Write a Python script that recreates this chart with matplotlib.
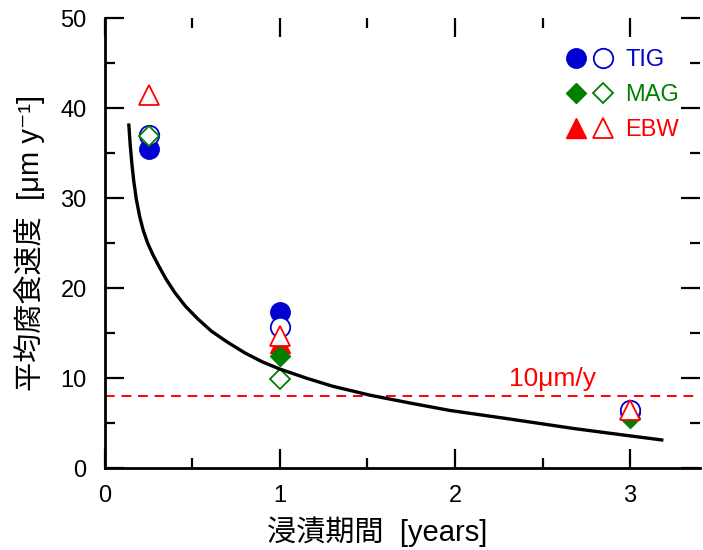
import numpy as np
import matplotlib
matplotlib.use('Agg')
import matplotlib.pyplot as plt
from matplotlib.legend_handler import HandlerTuple
from matplotlib.ticker import MultipleLocator

plt.rcParams['font.family'] = ['Liberation Sans', 'Noto Sans CJK JP', 'DejaVu Sans']

# --- data ---
tig_x_filled = [0.25, 1, 3]
tig_y_filled = [35.5, 17.3, 6.2]
tig_x_open = [0.25, 1, 3]
tig_y_open = [37.0, 15.7, 6.4]

mag_x_filled = [1, 3]
mag_y_filled = [12.4, 5.6]
mag_x_open = [0.25, 1]
mag_y_open = [36.9, 9.9]

ebw_x_filled = [1]
ebw_y_filled = [13.9]
ebw_x_open = [0.25, 1, 3]
ebw_y_open = [41.5, 14.7, 6.4]

# fitted curve
curve_x = [0.137, 0.145, 0.155, 0.165, 0.18, 0.2, 0.22, 0.245, 0.275, 0.31, 0.35,
           0.40, 0.46, 0.53, 0.61, 0.70, 0.80, 0.90, 1.0, 1.15, 1.3, 1.514, 1.75,
           1.971, 2.295, 2.676, 2.95, 3.19]
curve_y = [38.3, 36.0, 33.8, 32.0, 29.9, 27.9, 26.4, 25.0, 23.7, 22.4, 21.0,
           19.5, 18.0, 16.6, 15.2, 14.0, 12.8, 11.8, 11.0, 10.0, 9.1, 8.1, 7.2,
           6.4, 5.5, 4.4, 3.7, 3.1]

limit_y = 8.0
limit_label = '10μm/y'

blue = '#0000d0'
green = '#007f00'
red = '#ff0000'

fig = plt.figure(figsize=(7.03, 5.50), dpi=100)
ax = fig.add_axes([0.149, 0.149, 0.847, 0.818])

ms = 14
mew = 1.3
tf, = ax.plot(tig_x_filled, tig_y_filled, 'o', color=blue, ms=ms, zorder=3, ls='none')
ef, = ax.plot(ebw_x_filled, ebw_y_filled, '^', color=red, ms=ms, zorder=4, ls='none')
mf, = ax.plot(mag_x_filled, mag_y_filled, 'D', color=green, ms=ms * 0.72, zorder=5, ls='none')
to, = ax.plot(tig_x_open, tig_y_open, 'o', mfc='white', mec=blue, mew=mew, ms=ms, zorder=6, ls='none')
eo, = ax.plot(ebw_x_open, ebw_y_open, '^', mfc='white', mec=red, mew=mew, ms=ms, zorder=7, ls='none')
mo, = ax.plot(mag_x_open, mag_y_open, 'D', mfc='white', mec=green, mew=mew, ms=ms * 0.72, zorder=8, ls='none')

ax.plot(curve_x, curve_y, '-', color='black', lw=2.4, zorder=9, solid_capstyle='butt')

# dashed reference line
ax.axhline(limit_y, color=red, lw=1.4, ls=(0, (5, 3.5)), zorder=2)
ax.text(2.31, limit_y + 0.6, limit_label, color=red, fontsize=19, ha='left', va='bottom')

ax.set_xlim(0, 3.4)
ax.set_ylim(0, 50)
ax.xaxis.set_major_locator(MultipleLocator(1))
ax.xaxis.set_minor_locator(MultipleLocator(0.5))
ax.yaxis.set_major_locator(MultipleLocator(10))
ax.yaxis.set_minor_locator(MultipleLocator(5))
ax.tick_params(which='both', direction='in', top=True, right=True, labelsize=17, width=1.6)
ax.tick_params(which='major', length=13.5)
ax.tick_params(which='minor', length=7.5)
ax.tick_params(axis='y', which='both', pad=13)
ax.tick_params(axis='x', which='both', pad=12)
for s in ['left', 'bottom']:
    ax.spines[s].set_linewidth(2)
for s in ['top', 'right']:
    ax.spines[s].set_visible(False)

ax.set_xlabel('浸漬期間  [years]', fontsize=21)
ax.xaxis.set_label_coords(0.457, -0.108)
ax.set_ylabel('平均腐食速度  [μm y⁻¹]', fontsize=21)
ax.yaxis.set_label_coords(-0.10, 0.50)

leg = ax.legend([(tf, to), (mf, mo), (ef, eo)], ['TIG', 'MAG', 'EBW'],
                handler_map={tuple: HandlerTuple(ndivide=None, pad=0.3)},
                frameon=False, loc='upper right', bbox_to_anchor=(1.0, 0.978),
                fontsize=17, handlelength=2.0, handletextpad=0.5, labelspacing=0.55)
for txt, c in zip(leg.get_texts(), [blue, green, red]):
    txt.set_color(c)

fig.savefig('out.png', dpi=100)
